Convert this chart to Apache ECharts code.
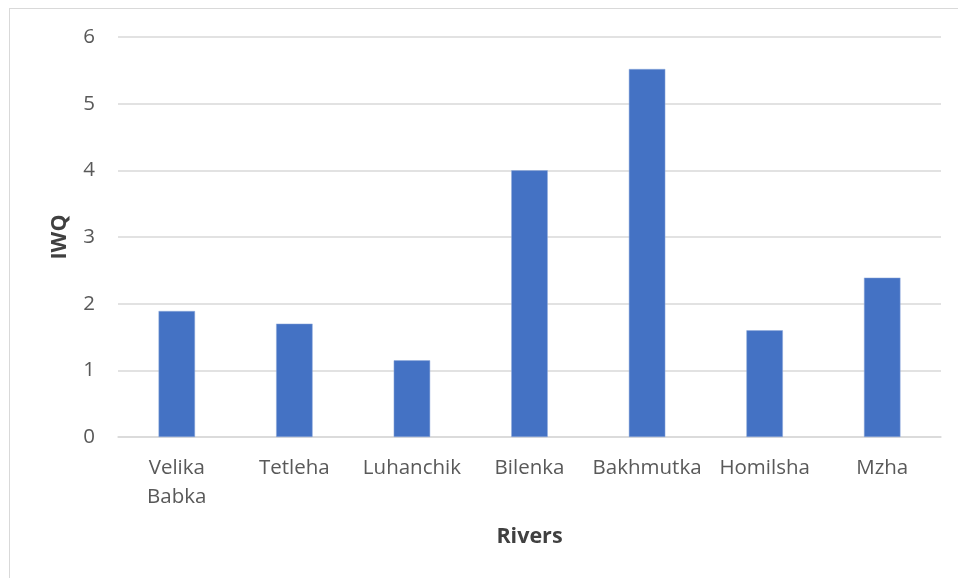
<!DOCTYPE html>
<html>
<head>
<meta charset="utf-8">
<script src="https://cdn.jsdelivr.net/npm/echarts@6/dist/echarts.min.js"></script>
<style>
  html, body { margin: 0; padding: 0; background: #fff; }
  #chart { width: 958px; height: 578px; position: relative; }
  .frame {
    position: absolute; left: 9px; top: 8px;
    width: 1000px; height: 600px;
    border: 1px solid #d9d9d9; box-sizing: border-box;
    pointer-events: none;
  }
</style>
</head>
<body>
<div id="chart"></div>
<div class="frame"></div>
<script>
const rivers = ['Velika\nBabka', 'Tetleha', 'Luhanchik', 'Bilenka', 'Bakhmutka', 'Homilsha', 'Mzha'];
const iwq = [1.89, 1.7, 1.15, 4.0, 5.52, 1.6, 2.39];
const yTicks = [0, 6, 1]; // min, max, step

const labelColor = '#595959';
const font = '"Open Sans", "Noto Sans", sans-serif';

const myChart = echarts.init(document.getElementById('chart'));
myChart.setOption({
  animation: false,
  grid: {
    left: 118,
    right: 17,
    top: 37,
    bottom: 141,
    containLabel: false
  },
  xAxis: {
    type: 'category',
    data: rivers,
    name: 'Rivers',
    nameLocation: 'middle',
    nameGap: 89,
    nameTextStyle: { color: '#404040', fontSize: 21.5, fontWeight: 'bold', fontFamily: font },
    axisLine: { show: true, lineStyle: { color: '#d9d9d9', width: 1.5 } },
    axisTick: { show: false },
    axisLabel: {
      color: labelColor, fontSize: 20.5, fontFamily: font,
      margin: 17, lineHeight: 29, interval: 0
    }
  },
  yAxis: {
    type: 'value',
    min: yTicks[0],
    max: yTicks[1],
    interval: yTicks[2],
    name: 'IWQ',
    nameLocation: 'middle',
    nameGap: 47,
    nameRotate: 90,
    nameTextStyle: { color: '#404040', fontSize: 21.5, fontWeight: 'bold', fontFamily: font },
    axisLine: { show: false },
    axisTick: { show: false },
    axisLabel: { color: labelColor, fontSize: 20.5, fontFamily: font, margin: 23 },
    splitLine: { lineStyle: { color: '#d9d9d9', width: 1.5 } }
  },
  series: [
    {
      type: 'bar',
      data: iwq,
      barWidth: '31%',
      itemStyle: { color: '#4472c4', borderColor: '#8eaadb', borderWidth: 0.5 }
    }
  ]
});
</script>
</body>
</html>
